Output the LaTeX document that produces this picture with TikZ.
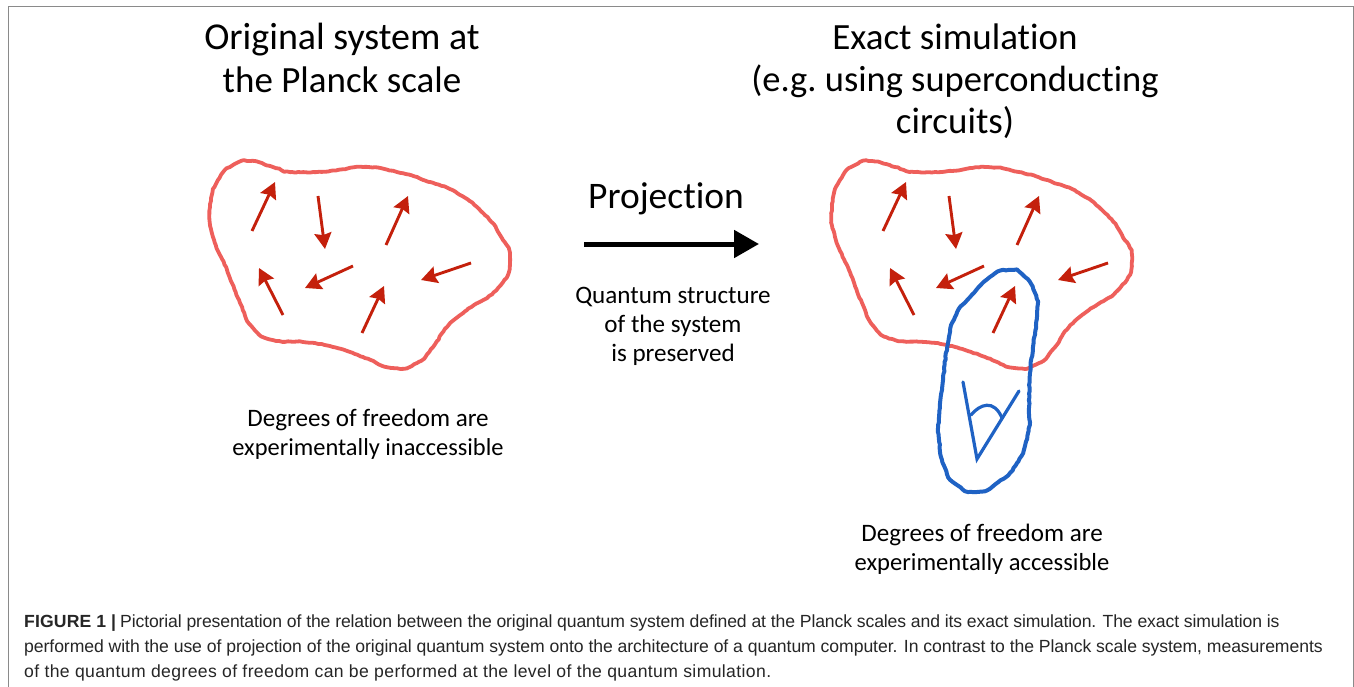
\documentclass[tikz,border=0pt]{standalone}
\usepackage{fontspec}
\setmainfont[RawFeature={-liga;-clig}]{Carlito}
\newfontfamily\capbold[LetterSpace=0.8]{Liberation Sans Bold}
\newfontfamily\capA[LetterSpace=-0.66]{Liberation Sans}
\newfontfamily\capB[LetterSpace=-0.37]{Liberation Sans}
\newfontfamily\capC[LetterSpace=2.15]{Liberation Sans}
\usetikzlibrary{decorations.pathmorphing,arrows.meta}
\definecolor{blobred}{HTML}{EE5F5B}
\definecolor{arrowred}{HTML}{C4200C}
\definecolor{eyeblue}{HTML}{1F62C4}
\definecolor{framegray}{HTML}{8A8A8A}
\tikzset{
  bigtitle/.style={font=\fontsize{37}{42}\selectfont\frenchspacing,anchor=base,inner sep=0pt,text=black},
  midtext/.style={font=\fontsize{24.6}{29}\selectfont,anchor=base,inner sep=0pt,text=black},
  widetext/.style={font=\fontsize{25.1}{29}\selectfont,anchor=base,inner sep=0pt,text=black},
  captionline/.style={anchor=base west,inner sep=0pt,text=black!85},
  sketchred/.style={draw=blobred,line width=3.8pt,line join=round,decorate,decoration={random steps,segment length=3pt,amplitude=0.4pt}},
  sketchblue/.style={draw=eyeblue,line width=4pt,line join=round,decorate,decoration={random steps,segment length=3pt,amplitude=0.4pt}},
  spin/.style={draw=arrowred,line width=2.9pt,-{Stealth[length=16pt,width=17pt,inset=2pt]}},
  eyeline/.style={draw=eyeblue,line width=3.2pt,line cap=round,line join=miter},
}
\newcommand{\redblob}{plot[smooth cycle,tension=0.9] coordinates {(292,172)(330,171)(363,167)(397,172)(430,182)(457,193)(483,213)(500,235)(510,260)(498,288)(467,310)(447,327)(433,347)(417,363)(393,368)(363,357)(333,347)(303,342)(273,340)(253,328)(240,303)(227,270)(213,237)(210,207)(218,180)(233,165)(250,161)(273,167)}}
\newcommand{\spins}{
  \draw[spin] (252,231) -- (275,182);
  \draw[spin] (318,196) -- (325,249);
  \draw[spin] (386,245) -- (408,196);
  \draw[spin] (353,266) -- (305,288);
  \draw[spin] (283,315) -- (259,268);
  \draw[spin] (362,333) -- (384,286);
}
\begin{document}
\begin{tikzpicture}[x=1pt,y=-1pt]
\useasboundingbox (0,0) rectangle (1354,687);
\fill[white] (0,0) rectangle (1354,687);
% frame
\draw[framegray,line width=1pt] (8,687) -- (8,7) -- (1353,7) -- (1353,687);
% titles
\node[bigtitle,font=\fontsize{38}{42}\selectfont] (t1a) at (342,50) {Original system at};
\node[bigtitle] (t1b) at (342,93) {the Planck scale};
\node[bigtitle] (t2a) at (955,50) {Exact simulation};
\node[bigtitle,font=\fontsize{36.5}{42}\selectfont\frenchspacing] (t2b) at (955,92) {(e.g. using superconducting};
\node[bigtitle] (t2c) at (955,134) {circuits)};
% left system
\path[sketchred] \redblob;
\spins
\draw[spin] (471,263) -- (421,280);
% right system
\begin{scope}[shift={(622,0)}]
\path[sketchred] \redblob;
\end{scope}
\begin{scope}[shift={(631,0)}]
\spins
\draw[spin] (477,263) -- (427,280);
\end{scope}
\path[sketchblue] plot[smooth cycle,tension=1] coordinates {(1008,270)(1023,275)(1035,293)(1037,313)(1033,347)(1030,373)(1029,407)(1028,433)(1017,463)(997,483)(977,492)(957,485)(945,468)(939,440)(939,417)(943,380)(948,343)(955,317)(970,297)(990,277)};
\draw[eyeline] (963,382) -- (977,459) -- (1019,391);
\draw[eyeline] (971,415) .. controls (980,404) and (994,399) .. (1002,418);
% projection
\node[bigtitle,font=\fontsize{37.5}{42}\selectfont] (proj) at (666,208) {Projection};
\coordinate (pa) at (584,244);
\coordinate (pb) at (759,244);
\draw[black,line width=5pt,-{Stealth[length=25pt,width=27pt,inset=0pt]}] (pa) -- (pb);
\node[widetext] (q1) at (673,303) {Quantum structure};
\node[widetext] (q2) at (673,332) {of the system};
\node[widetext] (q3) at (673,361) {is preserved};
\node[widetext] (d1) at (368,426) {Degrees of freedom are};
\node[midtext,font=\fontsize{24.4}{29}\selectfont] (d2) at (368,455) {experimentally inaccessible};
\node[widetext] (d3) at (982,541) {Degrees of freedom are};
\node[midtext] (d4) at (982,570) {experimentally accessible};
% caption
\node[captionline] (c1) at (24,627) {\fontsize{17.6}{20}\selectfont{\capbold FIGURE 1 |} \capA Pictorial presentation of the relation between the original quantum system defined at the Planck scales and its exact simulation. The exact simulation is};
\node[captionline] (c2) at (24,652) {\fontsize{17.6}{20}\selectfont\capB performed with the use of projection of the original quantum system onto the architecture of a quantum computer. In contrast to the Planck scale system, measurements};
\node[captionline] (c3) at (24,677) {\fontsize{17.6}{20}\selectfont\capC of the quantum degrees of freedom can be performed at the level of the quantum simulation.};
\end{tikzpicture}
\end{document}
